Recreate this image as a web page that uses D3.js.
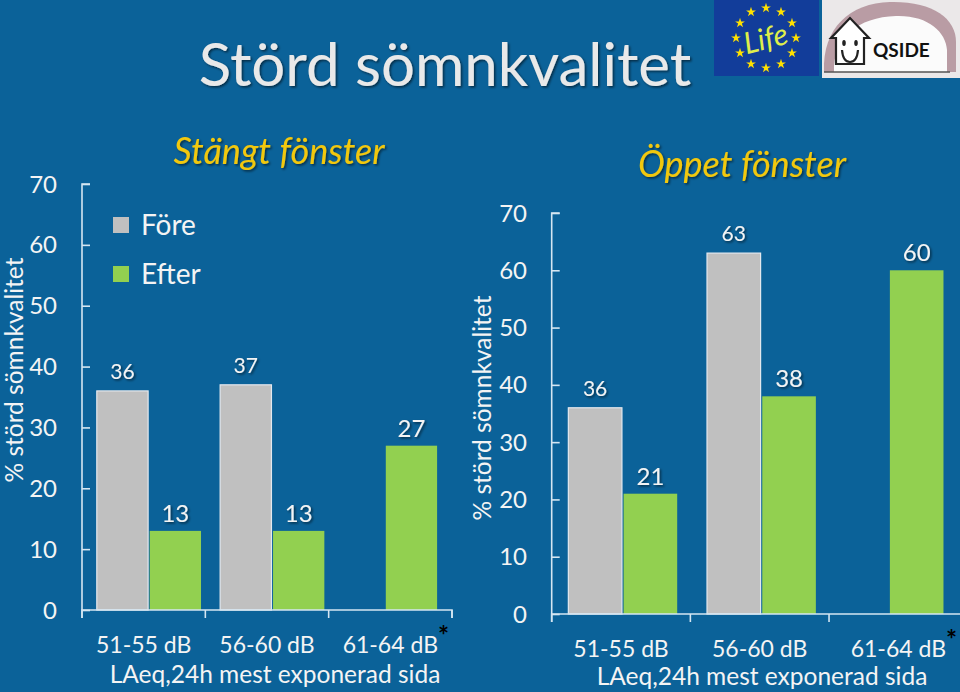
<!DOCTYPE html>
<html><head><meta charset="utf-8">
<script src="https://cdn.jsdelivr.net/npm/d3@7"></script>
<style>
html,body{margin:0;padding:0;background:#0b6299;}
svg{display:block;}
text{font-family:Lato,"Open Sans",sans-serif;}
</style></head>
<body>
<svg id="c" width="960" height="692"></svg>
<script>
// ---- data ----
const categories = ["51-55 dB", "56-60 dB", "61-64 dB"];
const seriesNames = ["Före", "Efter"];
const closedBefore = [36, 37, null];
const closedAfter = [13, 13, 27];
const openBefore = [36, 63, null];
const openAfter = [21, 38, 60];
const yTicks = [0, 10, 20, 30, 40, 50, 60, 70];
const panelTitles = ["Stängt fönster", "Öppet fönster"];
const mainTitle = "Störd sömnkvalitet";
const yLabel = "% störd sömnkvalitet";
const xLabel = "LAeq,24h mest exponerad sida";
const starredCategory = "61-64 dB";

const BG = "#0b6299", GREY = "#c0c0c0", GREEN = "#92d050", AX = "#d5e6f2", TXT = "#f4f4f4", GOLD = "#f2c80f";

const svg = d3.select("#c");
svg.append("rect").attr("width", 960).attr("height", 692).attr("fill", BG);

const defs = svg.append("defs");
const f = defs.append("filter").attr("id", "sh").attr("x", "-10%").attr("y", "-10%").attr("width", "130%").attr("height", "130%");
f.append("feDropShadow").attr("dx", 1.5).attr("dy", 1.5).attr("stdDeviation", 0.8).attr("flood-color", "#000").attr("flood-opacity", 0.55);

// main title
svg.append("text").attr("x", 445).attr("y", 86).attr("text-anchor", "middle")
  .attr("font-size", 60).attr("fill", "#e9e9e9").attr("filter", "url(#sh)").text(mainTitle);

// ---- panels ----
const panels = [
  { before: closedBefore, after: closedAfter, xr: [82, 452], yr: [610, 184], inner: [0.12, 0.965],
    tickLabX: 57, yLabX: 23, yLabY: 370, titleX: 279, titleY: 164, catY: 653, xLabY: 683, xLabX: 275, legend: true },
  { before: openBefore, after: openAfter, xr: [551.7, 967.7], yr: [614, 213], inner: [0.12, 0.905],
    tickLabX: 527, yLabX: 491, yLabY: 408, titleX: 742, titleY: 177, catY: 657, xLabY: 685, xLabX: 762, legend: false }
];

panels.forEach((p, pi) => {
  const g = svg.append("g");
  const x0 = d3.scaleBand().domain(categories).range(p.xr).padding(0);
  const bw = x0.bandwidth();
  const x1 = d3.scaleBand().domain(seriesNames).range([bw * p.inner[0], bw * p.inner[1]]).paddingInner(0.03);
  const y = d3.scaleLinear().domain([0, 70]).range(p.yr);

  // y axis
  const ya = g.append("g").attr("transform", `translate(${p.xr[0]},0)`)
    .call(d3.axisRight(y).tickValues(yTicks).tickSize(8).tickFormat(""));
  ya.select(".domain").attr("stroke", AX).attr("stroke-width", 1.6).attr("d", `M8,${p.yr[1]}H0V${p.yr[0]}`);
  ya.selectAll(".tick line").attr("stroke", AX).attr("stroke-width", 1.6);
  g.selectAll(".ytl").data(yTicks).join("text").attr("class", "ytl")
    .attr("x", p.tickLabX).attr("y", d => y(d)).attr("dy", "0.36em").attr("text-anchor", "end")
    .attr("font-size", 24).attr("fill", TXT).text(d => d);

  // y label
  g.append("text").attr("transform", `translate(${p.yLabX},${p.yLabY}) rotate(-90)`)
    .attr("text-anchor", "middle").attr("font-size", 24.5).attr("fill", TXT).text(yLabel);

  // bars
  const data = categories.map((c, i) => ({ c, b: p.before[i], a: p.after[i] }));
  data.forEach(d => {
    const lone = d.b == null;
    if (!lone) {
      g.append("rect").attr("x", x0(d.c) + x1("Före")).attr("y", y(d.b))
        .attr("width", x1.bandwidth()).attr("height", y(0) - y(d.b))
        .attr("fill", GREY).attr("stroke", "#e4e8ee").attr("stroke-width", 1.2);
      g.append("text").attr("x", x0(d.c) + x1("Före") + x1.bandwidth() / 2).attr("y", y(d.b) - 12)
        .attr("text-anchor", "middle").attr("font-size", 21).attr("fill", TXT).attr("filter", "url(#sh)").text(d.b);
    }
    const ax = x0(d.c) + x1("Efter") - (lone ? x1.step() * 0.2 : 0);
    g.append("rect").attr("x", ax).attr("y", y(d.a))
      .attr("width", x1.bandwidth()).attr("height", y(0) - y(d.a)).attr("fill", GREEN);
    g.append("text").attr("x", ax + x1.bandwidth() / 2).attr("y", y(d.a) - 9)
      .attr("text-anchor", "middle").attr("font-size", 24).attr("fill", TXT).attr("filter", "url(#sh)").text(d.a);
  });

  // x axis
  const xa = g.append("g").attr("transform", `translate(0,${p.yr[0]})`)
    .call(d3.axisBottom(x0).tickSize(0).tickFormat(""));
  xa.select(".domain").attr("stroke", AX).attr("stroke-width", 1.6).attr("d", `M${p.xr[0]},8V0H${p.xr[1]}V8`);
  const bounds = categories.map(c => x0(c)).concat([p.xr[1]]);
  xa.selectAll(".bt").data(bounds).join("line").attr("class", "bt")
    .attr("x1", d => d).attr("x2", d => d).attr("y1", 0).attr("y2", 8).attr("stroke", AX).attr("stroke-width", 1.6);

  categories.forEach(c => {
    const t = g.append("text").attr("x", x0(c) + bw / 2).attr("y", p.catY).attr("text-anchor", "middle")
      .attr("font-size", 23).attr("fill", TXT).text(c);
    if (c === starredCategory) {
      const bb = t.node().getBBox();
      g.append("text").attr("x", bb.x + bb.width).attr("y", p.catY - 8)
        .attr("font-size", 26).attr("font-weight", "bold").attr("fill", "#000").text("*");
    }
  });
  g.append("text").attr("x", p.xLabX).attr("y", p.xLabY).attr("text-anchor", "middle")
    .attr("font-size", 24.5).attr("fill", TXT).text(xLabel);

  // panel title
  g.append("text").attr("x", p.titleX).attr("y", p.titleY).attr("text-anchor", "middle")
    .attr("font-size", 36).attr("font-style", "italic").attr("fill", GOLD).attr("filter", "url(#sh)").text(panelTitles[pi]);

  if (p.legend) {
    const col = d3.scaleOrdinal().domain(seriesNames).range([GREY, GREEN]);
    seriesNames.forEach((s, i) => {
      const ly = 225 + i * 49;
      g.append("rect").attr("x", 113).attr("y", ly - 8).attr("width", 16).attr("height", 16).attr("fill", col(s));
      g.append("text").attr("x", 141).attr("y", ly).attr("dy", "0.36em").attr("font-size", 28).attr("fill", TXT).text(s);
    });
  }
});

// ---- logos ----
const eu = svg.append("g");
eu.append("rect").attr("x", 714).attr("y", 0).attr("width", 105).attr("height", 76).attr("fill", "#123d9a");
const starPath = d3.symbol().type(d3.symbolStar).size(30)();
d3.range(12).forEach(i => {
  const a = i * Math.PI / 6;
  eu.append("path").attr("d", starPath).attr("fill", "#ffe100")
    .attr("transform", `translate(${766 + 30 * Math.sin(a)},${38 - 30 * Math.cos(a)})`);
});
eu.append("text").attr("x", 766).attr("y", 49).attr("text-anchor", "middle").attr("font-size", 30)
  .attr("font-style", "italic").attr("font-family", "DejaVu Serif, serif").attr("fill", "#dfee4a").attr("transform", "rotate(-14,766,40)").text("Life");

const q = svg.append("g");
q.append("rect").attr("x", 822).attr("y", 0).attr("width", 138).attr("height", 78).attr("fill", "#ebe8e9");
q.append("path").attr("d", "M824,72 C822,28 850,3 890,2 C932,1 956,18 956,42 L956,72 Z").attr("fill", "#b99ca4");
q.append("path").attr("d", "M834,72 C833,38 858,17 896,16 C928,15 946,32 947,50 L947,72 Z").attr("fill", "#fbfbfb");
q.append("line").attr("x1", 824).attr("x2", 950).attr("y1", 72).attr("y2", 72).attr("stroke", "#555").attr("stroke-width", 1.5);
q.append("path").attr("d", "M836,64 V38 H831 L850,18 L869,38 H864 V64 Z").attr("fill", "#fff").attr("stroke", "#222").attr("stroke-width", 2.2);
q.append("ellipse").attr("cx", 844).attr("cy", 43).attr("rx", 1.8).attr("ry", 3).attr("fill", "#222");
q.append("ellipse").attr("cx", 856).attr("cy", 43).attr("rx", 1.8).attr("ry", 3).attr("fill", "#222");
q.append("path").attr("d", "M842,50 Q843,62 850,62 Q857,62 858,50").attr("fill", "none").attr("stroke", "#222").attr("stroke-width", 2.2);
q.append("text").attr("x", 873).attr("y", 57).attr("font-size", 19).attr("font-weight", "bold")
  .attr("fill", "#111").text("QSIDE");
</script>
</body></html>
